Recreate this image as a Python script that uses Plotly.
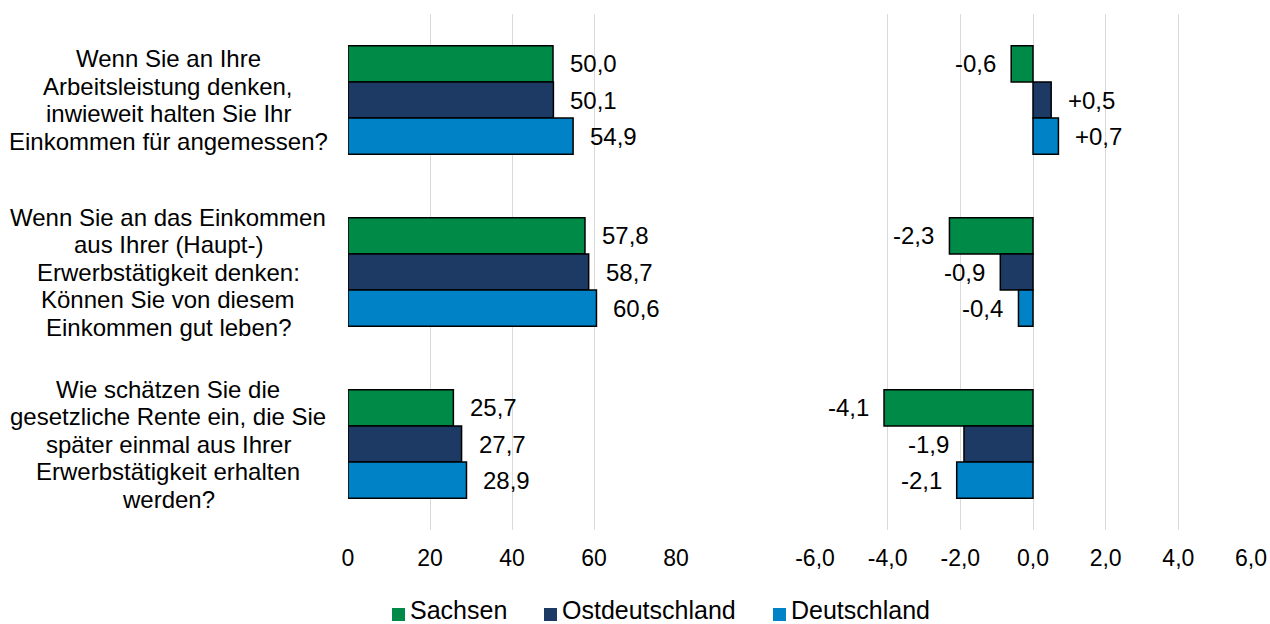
import plotly.graph_objects as go

# Survey questions (category axis), one list of lines per question
questions = [
    ["Wenn Sie an Ihre", "Arbeitsleistung denken,", "inwieweit halten Sie Ihr",
     "Einkommen für angemessen?"],
    ["Wenn Sie an das Einkommen", "aus Ihrer (Haupt-)", "Erwerbstätigkeit denken:",
     "Können Sie von diesem", "Einkommen gut leben?"],
    ["Wie schätzen Sie die", "gesetzliche Rente ein, die Sie", "später einmal aus Ihrer",
     "Erwerbstätigkeit erhalten", "werden?"],
]
cat_ids = ["q1", "q2", "q3"]

regions = ["Sachsen", "Ostdeutschland", "Deutschland"]
colors = ["#008A47", "#1C3A64", "#0082C6"]

# Index values (left panel)
level_sachsen = [50.0, 57.8, 25.7]
level_ost = [50.1, 58.7, 27.7]
level_de = [54.9, 60.6, 28.9]

# Change values (right panel)
change_sachsen = [-0.6, -2.3, -4.1]
change_ost = [0.5, -0.9, -1.9]
change_de = [0.7, -0.4, -2.1]

levels = [level_sachsen, level_ost, level_de]
changes = [change_sachsen, change_ost, change_de]

left_ticks = [0, 20, 40, 60, 80]
right_ticks = [-6, -4, -2, 0, 2, 4, 6]

FONT = "Liberation Sans, Arial, sans-serif"
FS = 24
W, H = 1270, 624
TOP, BOTTOM = 14, 94
PLOT_H = H - TOP - BOTTOM


def de_num(v, signed=False):
    s = f"{v:+.1f}" if signed else f"{v:.1f}"
    return s.replace(".", ",")


def px_x(px):
    return px / W


def px_y(py):
    # pixel row -> paper y (0 = bottom of plot area)
    return (H - BOTTOM - py) / PLOT_H


fig = go.Figure()

for name, col, lv, ch in zip(regions, colors, levels, changes):
    fig.add_trace(go.Bar(
        y=cat_ids, x=lv, orientation="h", name=name,
        marker=dict(color=col, line=dict(color="#000000", width=1.5)),
        xaxis="x", yaxis="y", offsetgroup=name, showlegend=False,
    ))
    fig.add_trace(go.Bar(
        y=cat_ids, x=ch, orientation="h", name=name,
        marker=dict(color=col, line=dict(color="#000000", width=1.5)),
        xaxis="x2", yaxis="y2", offsetgroup=name, showlegend=False,
    ))

# value labels next to the bar ends
n = len(regions)
bargap = 0.37
slot = (1 - bargap) / n
annotations = []
for k, (lv, ch) in enumerate(zip(levels, changes)):
    off = -(1 - bargap) / 2 + slot * (k + 0.5)
    for i, cid in enumerate(cat_ids):
        ypos = i + off
        annotations.append(dict(
            x=lv[i], y=ypos, xref="x", yref="y", text=de_num(lv[i]),
            showarrow=False, xanchor="left", yanchor="middle", xshift=15,
            font=dict(family=FONT, size=FS, color="#000000"),
        ))
        v = ch[i]
        annotations.append(dict(
            x=v, y=ypos, xref="x2", yref="y2",
            text=de_num(v, signed=v > 0),
            showarrow=False, xanchor="left" if v > 0 else "right",
            yanchor="middle", xshift=15 if v > 0 else -13,
            font=dict(family=FONT, size=FS, color="#000000"),
        ))

# question labels, centred, tight line spacing
line_step = 27.5 / (PLOT_H / len(cat_ids))
for i, lines in enumerate(questions):
    for j, line in enumerate(lines):
        annotations.append(dict(
            x=px_x(168), y=i + (j - (len(lines) - 1) / 2) * line_step,
            xref="paper", yref="y", text=line,
            showarrow=False, xanchor="center", yanchor="middle",
            font=dict(family=FONT, size=FS, color="#000000"),
        ))

# legend: colour swatch + label for each region
legend_swatch_px = [392, 544, 773]
shapes = []
for name, col, sx in zip(regions, colors, legend_swatch_px):
    shapes.append(dict(
        type="rect", xref="paper", yref="paper",
        x0=px_x(sx), x1=px_x(sx + 13), y0=px_y(621), y1=px_y(608),
        fillcolor=col, line=dict(width=0), layer="above",
    ))
    annotations.append(dict(
        x=px_x(sx + 16), y=px_y(H), xref="paper", yref="paper", text=name,
        showarrow=False, xanchor="left", yanchor="bottom", yshift=-2,
        font=dict(family=FONT, size=25, color="#000000"),
    ))

axis_common = dict(
    showgrid=True, gridcolor="#D9D9D9", gridwidth=1, zeroline=False,
    showline=False, ticks="", ticklabelstandoff=12, automargin=False,
    tickfont=dict(family=FONT, size=23, color="#000000"),
    tickmode="array", fixedrange=True,
)

fig.update_layout(
    width=W, height=H,
    margin=dict(l=0, r=0, t=TOP, b=BOTTOM, autoexpand=False),
    paper_bgcolor="white", plot_bgcolor="white",
    barmode="group", bargap=bargap, bargroupgap=0,
    font=dict(family=FONT, size=FS, color="#000000"),
    showlegend=False,
    xaxis=dict(domain=[px_x(348), px_x(676)], range=[0, 80],
               tickvals=left_ticks, ticktext=[str(t) for t in left_ticks],
               anchor="y", **axis_common),
    xaxis2=dict(domain=[px_x(815), px_x(1251)], range=[-6, 6],
                tickvals=right_ticks, ticktext=[de_num(t) for t in right_ticks],
                anchor="y2", **axis_common),
    yaxis=dict(domain=[0, 1], type="category", categoryarray=cat_ids,
               autorange="reversed", showticklabels=False, showgrid=False,
               zeroline=False, anchor="x", automargin=False),
    yaxis2=dict(domain=[0, 1], type="category", categoryarray=cat_ids,
                autorange="reversed", showticklabels=False, showgrid=False,
                zeroline=False, anchor="x2", matches="y", automargin=False),
    annotations=annotations,
    shapes=shapes,
)

fig.write_html("out.html")
